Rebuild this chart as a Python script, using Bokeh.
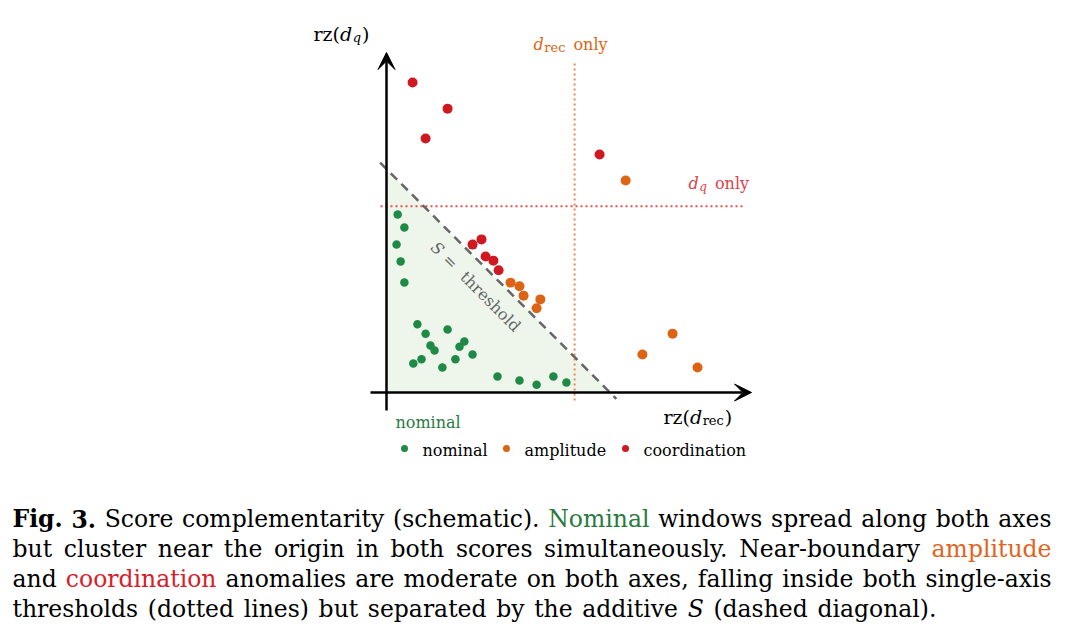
import glob
import math
import os

from bokeh.plotting import figure
from bokeh.models import Range1d, Label, Arrow, VeeHead, ColumnDataSource
from bokeh.embed import file_html
from bokeh.resources import INLINE

# ---- schematic scores (rz units); additive threshold S and single-axis thresholds
S_THRESHOLD = 6.0
THR_REC = 5.05
THR_Q = 5.0

nominal_rec = [0.30, 0.48, 0.27, 0.38, 0.48, 0.83, 1.05, 1.64, 1.18, 1.29, 1.96,
               2.09, 2.31, 0.94, 0.72, 1.50, 1.85, 2.98, 3.57, 4.03, 4.48, 4.83]
nominal_q = [4.78, 4.43, 3.97, 3.52, 2.95, 1.83, 1.58, 1.69, 1.26, 1.13, 1.23,
             1.37, 1.02, 0.89, 0.78, 0.67, 0.89, 0.43, 0.32, 0.21, 0.43, 0.27]

amplitude_rec = [6.42, 3.33, 3.57, 3.68, 4.13, 4.03, 7.68, 6.87, 8.35]
amplitude_q = [5.69, 2.95, 2.85, 2.60, 2.50, 2.26, 1.58, 1.02, 0.67]

coordination_rec = [0.70, 1.64, 1.05, 5.72, 2.31, 2.55, 2.66, 2.87, 3.01]
coordination_q = [8.32, 7.62, 6.82, 6.39, 3.97, 4.11, 3.65, 3.54, 3.28]

legend_labels = ["nominal", "amplitude", "coordination"]

GREEN = "#1f8a46"
ORANGE = "#dd6414"
RED = "#cf1820"
CAP_GREEN = "#2b7a3f"
CAP_ORANGE = "#e0641c"
CAP_RED = "#d8202a"

# caption, one list of (word, colour, style) per printed line
caption_lines = [
    [("Fig.", "black", "bold"), ("3.", "black", "bold"), ("Score", None, None),
     ("complementarity", None, None), ("(schematic).", None, None),
     ("Nominal", CAP_GREEN, None), ("windows", None, None), ("spread", None, None),
     ("along", None, None), ("both", None, None), ("axes", None, None)],
    [(w, None, None) for w in
     "but cluster near the origin in both scores simultaneously. Near-boundary".split()]
    + [("amplitude", CAP_ORANGE, None)],
    [("and", None, None), ("coordination", CAP_RED, None)]
    + [(w, None, None) for w in
       "anomalies are moderate on both axes, falling inside both single-axis".split()],
    [(w, None, None) for w in
     "thresholds (dotted lines) but separated by the additive".split()]
    + [("S", None, "italic"), ("(dashed", None, None), ("diagonal).", None, None)],
]

W, H = 1068, 643
ORIGIN_PX = (386.0, 392.0)   # where (0, 0) sits on the canvas
UNIT = 37.25                 # pixels per rz unit


def dx(px):
    return (px - ORIGIN_PX[0]) / UNIT


def dy(py):
    return (ORIGIN_PX[1] - py) / UNIT


# ---- text measuring with the same font files the browser uses
SERIF = "DejaVu Serif"
FONT_FILES = {"normal": "DejaVuSerif.ttf", "bold": "DejaVuSerif-Bold.ttf",
              "italic": "DejaVuSerif-Italic.ttf"}
_font_cache = {}


def _find(name):
    roots = ["/usr/share/fonts", "/usr/local/share/fonts",
             os.path.expanduser("~/.fonts"), os.path.expanduser("~/.local/share/fonts")]
    for r in roots:
        hits = glob.glob(os.path.join(r, "**", name), recursive=True)
        if hits:
            return hits[0]
    return None


def text_width(text, size, style="normal"):
    key = (style, size)
    if key not in _font_cache:
        font = None
        try:
            from PIL import ImageFont
            path = _find(FONT_FILES[style])
            if path:
                font = ImageFont.truetype(path, size)
        except Exception:
            font = None
        _font_cache[key] = font
    font = _font_cache[key]
    if font is not None:
        return font.getlength(text)
    return len(text) * size * (0.62 if style == "bold" else 0.56)


p = figure(width=W, height=H, output_backend="svg", toolbar_location=None,
           x_range=Range1d(dx(0), dx(W)), y_range=Range1d(dy(H), dy(0)),
           min_border=0, outline_line_color=None)
p.axis.visible = False
p.grid.visible = False
p.background_fill_color = "white"
p.border_fill_color = "white"

# shaded region below the additive threshold
p.patch([0, 0, S_THRESHOLD], [0, S_THRESHOLD, 0], fill_color="#eef6ec",
        line_color=None)

# single-axis thresholds (dotted)
p.line([THR_REC, THR_REC], [dy(400), dy(63)], line_color="#e88a4c",
       line_width=2, line_dash="2 3")
p.line([dx(380), dx(743)], [THR_Q, THR_Q], line_color="#e4504e",
       line_width=2, line_dash="2 3")

# additive threshold S (dashed diagonal)
ext = 0.17
p.line([-ext, S_THRESHOLD + ext], [S_THRESHOLD + ext, -ext], line_color="#666666",
       line_width=2.5, line_dash="9 6")

# axes with arrowheads
p.add_layout(Arrow(end=VeeHead(size=17, fill_color="black", line_color="black"),
                   x_start=dx(370), y_start=0, x_end=dx(751), y_end=0,
                   line_width=2.5, line_color="black"))
p.add_layout(Arrow(end=VeeHead(size=17, fill_color="black", line_color="black"),
                   x_start=0, y_start=dy(410), x_end=0, y_end=dy(52),
                   line_width=2.5, line_color="black"))

# points
p.scatter(nominal_rec, nominal_q, size=8.5, fill_color=GREEN, line_color=None)
p.scatter(amplitude_rec, amplitude_q, size=10, fill_color=ORANGE, line_color=None)
p.scatter(coordination_rec, coordination_q, size=10, fill_color=RED, line_color=None)


def lab(px_, py_, text, size, color="black", style="normal", align="left",
        baseline="alphabetic", angle=0.0):
    p.add_layout(Label(x=dx(px_), y=dy(py_), text=text, text_font=SERIF,
                       text_font_size=f"{size}px", text_color=color,
                       text_font_style=style, text_align=align,
                       text_baseline=baseline, angle=angle))


def run(px_, py_, pieces, color="black"):
    """Lay out (text, size, style, drop, gap_before) pieces one after another."""
    x = px_
    for text, size, style, drop, gap in pieces:
        x += gap
        lab(x, py_ + drop, text, size, color=color, style=style)
        x += text_width(text, size, style)


# axis titles
run(313, 33, [("rz(", 19, "normal", 0, 0), ("d", 19, "italic", 0, 0),
              ("q", 13, "italic", 4, 0.5), (")", 19, "normal", 0, 1)])
run(663, 416, [("rz(", 19, "normal", 0, 0), ("d", 19, "italic", 0, 0),
               ("rec", 13, "normal", 4, 0.5), (")", 19, "normal", 0, 1)])

# single-axis threshold labels
run(533, 44, [("d", 16, "italic", 0, 0), ("rec", 13, "normal", 3, 0.5),
              ("only", 16, "normal", 0, 8)], color=ORANGE)
run(688, 183, [("d", 16, "italic", 0, 0), ("q", 12, "italic", 3, 0.5),
               ("only", 16, "normal", 0, 8)], color="#e04048")

# diagonal label
ang = -math.pi / 4
lab(437, 248, "S", 16, color="#666666", style="italic", align="center",
    baseline="middle", angle=ang)
lab(450, 261, "=", 16, color="#666666", align="center",
    baseline="middle", angle=ang)
lab(490, 301, "threshold", 16, color="#666666", align="center",
    baseline="middle", angle=ang)

lab(395, 422, "nominal", 16, color=CAP_GREEN)

# legend row
leg_src = ColumnDataSource(dict(x=[dx(404), dx(506), dx(625)], y=[dy(448)] * 3,
                                c=[GREEN, ORANGE, RED]))
p.scatter("x", "y", source=leg_src, size=7, fill_color="c", line_color=None)
for px_, name in zip([422, 524, 643], legend_labels):
    lab(px_, 450, name, 16)

# caption, justified between the margins (last line set at its natural end)
CAP = 23.5
LEFT = 12
line_ends = [1051, 1051, 1051, 936]
line_baselines = [518, 548, 578, 608]
for words, right, base in zip(caption_lines, line_ends, line_baselines):
    widths = [text_width(w, CAP, s or "normal") for w, _, s in words]
    gap = (right - LEFT - sum(widths)) / (len(words) - 1)
    x = LEFT
    for (w, c, s), wd in zip(words, widths):
        lab(x, base, w, CAP, color=c or "black", style=s or "normal")
        x += wd + gap

open("out.html", "w").write(file_html(p, INLINE))
